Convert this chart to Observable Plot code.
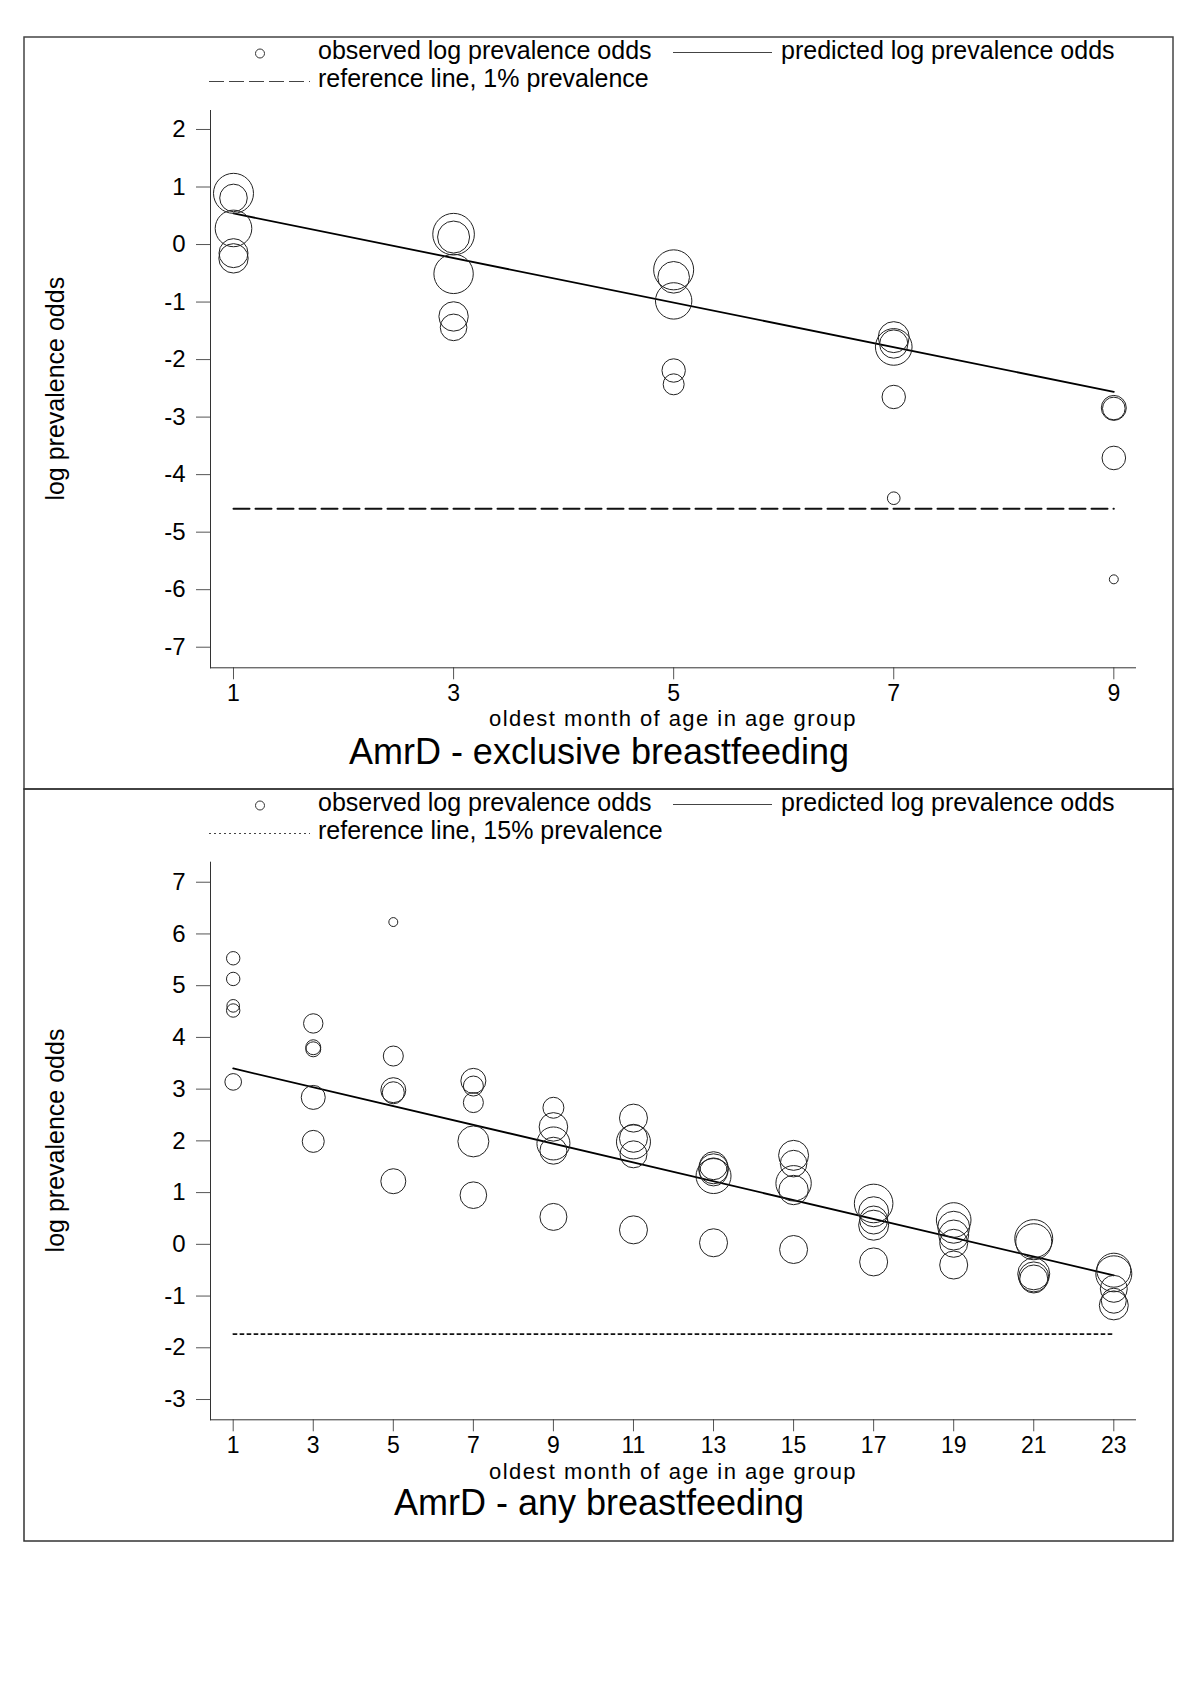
<!DOCTYPE html>
<html>
<head>
<meta charset="utf-8">
<script src="https://cdn.jsdelivr.net/npm/d3@7"></script>
<script src="https://cdn.jsdelivr.net/npm/@observablehq/plot@0.6"></script>
<style>
  body { margin: 0; background: #fff; }
  #page { position: relative; width: 1198px; height: 1696px; overflow: hidden; background: #fff; }
  #page > svg, #page > figure { position: absolute; left: 0; margin: 0; }
</style>
</head>
<body>
<div id="page"></div>
<script>
// ---------------- Panel A: AmrD - exclusive breastfeeding ----------------
const exclMonths   = [1,1,1,1,1, 3,3,3,3,3, 5,5,5,5,5, 7,7,7,7,7, 9,9,9,9];
const exclLogOdds  = [0.89,0.81,0.28,-0.15,-0.24,  0.18,0.13,-0.51,-1.25,-1.44,
                      -0.44,-0.57,-0.98,-2.19,-2.43, -1.61,-1.73,-1.78,-2.65,-4.41,
                      -2.84,-2.85,-3.71,-5.82];
const exclWeights  = [400,190,335,210,216,  433,256,388,216,177,
                      400,250,331,137,110,  240,200,336,137,40,
                      156,128,139,20];
const exclPredMonths  = [1, 9];
const exclPredLogOdds = [0.54, -2.56];
const exclRefLogOdds  = -4.595;   // reference line, 1% prevalence
const exclXTicks = [1, 3, 5, 7, 9];
const exclYTicks = [-7, -6, -5, -4, -3, -2, -1, 0, 1, 2];

// ---------------- Panel B: AmrD - any breastfeeding ----------------
const anyMonths = [1,1,1,1,1, 3,3,3,3,3, 5,5,5,5,5, 7,7,7,7,7, 9,9,9,9,9, 11,11,11,11,11,
                   13,13,13,13,13, 15,15,15,15,15, 17,17,17,17,17, 19,19,19,19,19,
                   21,21,21,21,21, 23,23,23,23,23];
const anyLogOdds = [5.53,5.13,4.61,4.52,3.14,   4.27,3.81,3.77,2.84,1.99,
                    6.23,3.64,2.98,2.93,1.22,   3.16,3.06,2.74,1.99,0.95,
                    2.64,2.27,1.95,1.81,0.53,   2.44,2.05,1.98,1.74,0.28,
                    1.52,1.46,1.40,1.32,0.03,   1.72,1.56,1.18,1.05,-0.10,
                    0.79,0.63,0.47,0.37,-0.34,  0.47,0.33,0.18,0.02,-0.40,
                    0.11,0.05,-0.57,-0.63,-0.67, -0.50,-0.57,-0.86,-1.09,-1.18];
const anyWeights = [45,45,40,45,69,       94,56,56,144,121,
                    20,100,156,121,156,   156,100,100,240,177,
                    110,204,272,182,182,  196,196,289,182,196,
                    196,225,196,306,196,  225,177,313,216,196,
                    372,225,196,225,196,  300,256,225,196,196,
                    361,324,256,225,196,  289,324,182,156,210];
const anyPredMonths  = [1, 23];
const anyPredLogOdds = [3.40, -0.60];
const anyRefLogOdds  = -1.735;    // reference line, 15% prevalence
const anyXTicks = [1, 3, 5, 7, 9, 11, 13, 15, 17, 19, 21, 23];
const anyYTicks = [-3, -2, -1, 0, 1, 2, 3, 4, 5, 6, 7];

// ---------------- text ----------------
const legendObserved  = "observed log prevalence odds";
const legendPredicted = "predicted log prevalence odds";
const exclRefLabel = "reference line, 1% prevalence";
const anyRefLabel  = "reference line, 15% prevalence";
const xTitle = "oldest month of age in age group";
const yTitle = "log prevalence odds";
const exclTitle = "AmrD - exclusive breastfeeding";
const anyTitle  = "AmrD - any breastfeeding";

const FONT = "'Liberation Sans', Arial, Helvetica, sans-serif";
const page = document.getElementById("page");

function panel(cfg) {
  const pts = cfg.months.map((m, i) => ({month: m, logodds: cfg.logOdds[i], n: cfg.weights[i]}));
  const pred = cfg.predMonths.map((m, i) => ({month: m, logodds: cfg.predLogOdds[i]}));
  const ref = cfg.predMonths.map(m => ({month: m, logodds: cfg.refLogOdds}));
  return Plot.plot({
    width: 1198,
    height: cfg.height,
    marginLeft: 210,
    marginRight: 63,
    marginTop: cfg.marginTop,
    marginBottom: cfg.marginBottom,
    x: {domain: cfg.xDomain},
    y: {domain: cfg.yDomain},
    r: {type: "sqrt", domain: [0, 400], range: [0, 20]},
    style: {fontFamily: FONT, fontSize: "24px", color: "#000", background: "transparent", overflow: "visible"},
    marks: [
      Plot.axisX({ticks: cfg.xTicks, tickSize: 12, tickPadding: 5, tickFormat: d => String(d),
                  label: null, fontSize: 23, stroke: "#555", fill: "#000"}),
      Plot.axisY({ticks: cfg.yTicks, tickSize: 14, tickPadding: 11, tickFormat: d => String(d),
                  label: null, fontSize: 24, stroke: "#555", fill: "#000"}),
      Plot.frame({anchor: "left", stroke: "#333"}),
      Plot.frame({anchor: "bottom", stroke: "#333"}),
      Plot.line(ref, {x: "month", y: "logodds", stroke: "#111", strokeWidth: cfg.refWidth,
                      strokeDasharray: cfg.refDash}),
      Plot.line(pred, {x: "month", y: "logodds", stroke: "#000", strokeWidth: 1.8}),
      Plot.dot(pts, {x: "month", y: "logodds", r: "n", stroke: "#222", strokeWidth: 1, fill: "none"})
    ]
  });
}

const top1 = panel({
  months: exclMonths, logOdds: exclLogOdds, weights: exclWeights,
  predMonths: exclPredMonths, predLogOdds: exclPredLogOdds, refLogOdds: exclRefLogOdds,
  refDash: "16,6", refWidth: 2,
  xDomain: [0.791, 9.197], yDomain: [-7.358, 2.33],
  xTicks: exclXTicks, yTicks: exclYTicks,
  height: 710, marginTop: 110, marginBottom: 42.7
});
top1.style.top = "0px";
page.appendChild(top1);

const bot1 = panel({
  months: anyMonths, logOdds: anyLogOdds, weights: anyWeights,
  predMonths: anyPredMonths, predLogOdds: anyPredLogOdds, refLogOdds: anyRefLogOdds,
  refDash: "3.5,3.5", refWidth: 1.6,
  xDomain: [0.433, 23.542], yDomain: [-3.392, 7.387],
  xTicks: anyXTicks, yTicks: anyYTicks,
  height: 710, marginTop: 72.7, marginBottom: 79.7
});
bot1.style.top = "789px";
page.appendChild(bot1);

// ---------------- decorations: frames, legends, titles ----------------
const ov = d3.select(page).append("svg")
  .attr("width", 1198).attr("height", 1696)
  .style("position", "absolute").style("left", "0px").style("top", "0px")
  .style("pointer-events", "none")
  .attr("font-family", FONT).attr("fill", "#000");

ov.append("rect").attr("x", 24).attr("y", 37).attr("width", 1149).attr("height", 752)
  .attr("fill", "none").attr("stroke", "#444").attr("stroke-width", 1.5);
ov.append("rect").attr("x", 24).attr("y", 789).attr("width", 1149).attr("height", 752)
  .attr("fill", "none").attr("stroke", "#333").attr("stroke-width", 1.5);

function deco(off, refLabel, refLegendDash, plotMidY, title, xTitleY, titleY) {
  const g = ov.append("g").attr("transform", `translate(0,${off})`);
  // legend row 1
  g.append("circle").attr("cx", 260).attr("cy", 53.5).attr("r", 4.5)
    .attr("fill", "none").attr("stroke", "#333").attr("stroke-width", 1);
  g.append("text").attr("x", 318).attr("y", 59).attr("font-size", 25).text(legendObserved);
  g.append("line").attr("x1", 673).attr("x2", 772).attr("y1", 52.5).attr("y2", 52.5)
    .attr("stroke", "#444").attr("stroke-width", 1);
  g.append("text").attr("x", 781).attr("y", 59).attr("font-size", 25).text(legendPredicted);
  // legend row 2
  g.append("line").attr("x1", 209).attr("x2", 310).attr("y1", 81.5).attr("y2", 81.5)
    .attr("stroke", "#444").attr("stroke-width", 1).attr("stroke-dasharray", refLegendDash);
  g.append("text").attr("x", 318).attr("y", 87.2).attr("font-size", 25).text(refLabel);
  // y title
  g.append("text").attr("transform", `translate(63.5,${plotMidY}) rotate(-90)`)
    .attr("text-anchor", "middle").attr("font-size", 25).text(yTitle);
  // x title
  g.append("text").attr("x", 673).attr("y", xTitleY).attr("text-anchor", "middle")
    .attr("font-size", 22).attr("letter-spacing", "1.45px").text(xTitle);
  // panel title
  g.append("text").attr("x", 599).attr("y", titleY).attr("text-anchor", "middle")
    .attr("font-size", 36).text(title);
}
deco(0, exclRefLabel, "15,5", 388.7, exclTitle, 726, 763.5);
deco(752, anyRefLabel, "2,3", 1140.5 - 752, anyTitle, 1479 - 752, 1515 - 752);
</script>
</body>
</html>
